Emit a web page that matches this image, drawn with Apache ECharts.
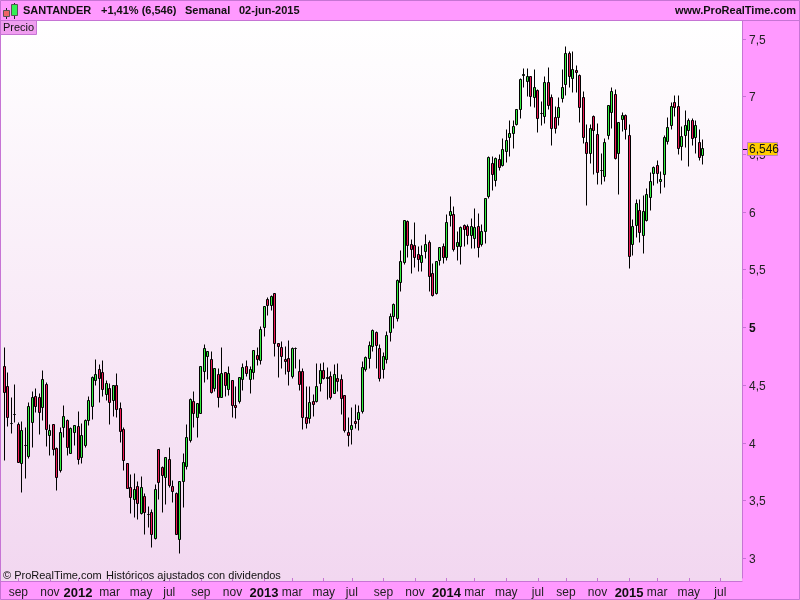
<!DOCTYPE html>
<html>
<head>
<meta charset="utf-8">
<title>SANTANDER</title>
<script src="https://cdn.jsdelivr.net/npm/echarts@6/dist/echarts.min.js"></script>
<style>
  html, body { margin: 0; padding: 0; background: #ff99ff; }
  #chart { width: 800px; height: 600px; }
</style>
</head>
<body>
<div id="chart"></div>
<script>
// velas semanales
var opens = [4.661,4.489,4.170,4.247,4.161,3.816,3.977,3.882,4.178,4.402,4.394,4.308,4.509,4.066,4.158,3.954,3.762,4.135,4.195,3.911,
  4.092,4.144,3.876,3.980,4.195,4.316,4.540,4.632,4.609,4.420,4.471,4.368,4.497,4.299,4.118,3.816,3.615,3.506,3.618,3.385,
  3.532,3.382,3.394,3.167,3.945,3.784,3.695,3.859,3.618,3.558,3.161,3.661,3.790,4.023,4.359,4.221,4.256,4.618,4.744,4.721,
  4.471,4.592,4.394,4.609,4.463,4.540,4.325,4.359,4.549,4.661,4.549,4.609,4.756,4.713,4.997,5.239,5.187,5.290,4.859,4.825,
  4.721,4.730,4.575,4.813,4.618,4.618,4.221,4.213,4.359,4.359,4.514,4.626,4.566,4.575,4.428,4.557,4.549,4.411,4.092,4.118,
  4.187,4.204,4.273,4.632,4.727,4.833,4.954,4.816,4.632,4.721,4.954,5.092,5.075,5.385,5.566,5.920,5.721,5.713,5.635,5.566,
  5.661,5.738,5.463,5.296,5.583,5.704,5.609,5.971,5.980,5.704,5.704,5.885,5.876,5.799,5.773,5.876,5.721,5.833,6.135,6.420,
  6.273,6.454,6.402,6.523,6.644,6.678,6.756,6.885,7.187,7.135,7.170,6.989,7.049,6.856,6.825,7.118,6.989,6.816,6.816,6.980,
  7.101,7.377,7.161,7.230,7.187,6.989,6.601,6.506,6.825,6.670,6.362,6.307,6.661,6.859,7.014,6.506,6.799,6.833,6.661,5.721,
  5.885,6.014,5.799,5.928,6.126,6.333,6.402,6.264,6.325,6.609,6.747,6.945,6.911,6.566,6.661,6.704,6.790,6.644,6.601,6.489];
var closes = [4.437,4.221,4.170,4.247,3.833,4.109,3.977,4.316,4.394,4.316,4.264,4.549,4.118,4.109,3.945,3.695,4.092,4.230,3.963,4.127,
  4.149,3.859,4.066,4.195,4.368,4.566,4.589,4.557,4.463,4.514,4.351,4.497,4.290,4.101,3.842,3.601,3.523,3.592,3.471,3.609,
  3.394,3.382,3.204,3.592,3.652,3.718,3.868,3.632,3.575,3.204,3.661,3.825,4.049,4.376,4.256,4.342,4.661,4.816,4.790,4.437,
  4.644,4.394,4.598,4.497,4.601,4.325,4.308,4.566,4.652,4.598,4.632,4.799,4.721,4.980,5.178,5.187,5.264,4.859,4.833,4.747,
  4.704,4.618,4.816,4.813,4.506,4.221,4.170,4.351,4.333,4.489,4.626,4.557,4.557,4.394,4.592,4.532,4.385,4.106,4.066,4.152,
  4.170,4.264,4.652,4.739,4.842,4.971,4.842,4.558,4.747,4.928,5.092,5.195,5.402,5.575,5.928,5.713,5.678,5.609,5.592,5.626,
  5.721,5.445,5.279,5.575,5.695,5.609,5.911,6.006,5.678,5.738,5.868,5.851,5.799,5.876,5.868,5.695,5.833,6.118,6.471,6.325,
  6.463,6.385,6.540,6.618,6.678,6.739,6.885,7.152,7.195,7.170,6.997,7.075,6.808,6.856,7.118,6.920,6.721,6.721,6.902,7.083,
  7.377,7.178,7.239,7.213,6.902,6.644,6.506,6.721,6.704,6.342,6.362,6.601,6.920,7.040,6.466,6.773,6.833,6.713,5.618,5.876,
  6.075,5.825,6.006,6.152,6.264,6.385,6.333,6.282,6.644,6.730,6.911,6.902,6.549,6.652,6.747,6.790,6.635,6.747,6.471,6.546];
var lows = [3.842,4.141,4.078,4.172,3.828,3.572,3.693,3.865,3.957,4.259,4.072,4.193,3.966,3.891,3.891,3.589,3.744,4.043,3.891,3.905,
  3.980,3.813,3.822,3.960,4.149,4.198,4.494,4.353,4.397,4.362,4.158,4.227,4.216,4.000,3.759,3.601,3.388,3.354,3.331,3.377,
  3.201,3.262,3.089,3.161,3.512,3.397,3.468,3.612,3.483,3.204,3.037,3.440,3.770,4.003,4.129,4.043,4.256,4.526,4.546,4.425,
  4.440,4.305,4.394,4.405,4.411,4.218,4.210,4.339,4.451,4.575,4.425,4.552,4.667,4.675,4.925,5.101,5.149,4.747,4.566,4.646,
  4.589,4.494,4.555,4.641,4.451,4.115,4.124,4.170,4.224,4.353,4.445,4.549,4.373,4.373,4.425,4.440,4.244,4.086,3.971,3.986,
  4.124,4.106,4.253,4.618,4.641,4.790,4.647,4.529,4.560,4.684,4.874,4.986,5.049,5.313,5.543,5.606,5.468,5.520,5.486,5.480,
  5.595,5.313,5.270,5.287,5.532,5.555,5.580,5.876,5.658,5.580,5.546,5.698,5.718,5.687,5.687,5.606,5.704,5.724,6.118,6.184,
  6.221,6.359,6.394,6.428,6.480,6.549,6.747,6.808,7.075,6.997,6.911,6.902,6.693,6.747,6.767,6.888,6.578,6.681,6.750,6.945,
  7.009,7.075,7.032,7.032,6.779,6.595,6.055,6.422,6.328,6.241,6.236,6.267,6.629,6.724,6.457,6.149,6.695,6.624,5.509,5.624,
  5.776,5.739,5.644,5.920,6.012,6.227,6.247,6.158,6.210,6.586,6.716,6.825,6.494,6.443,6.558,6.397,6.578,6.506,6.448,6.408];
var highs = [4.828,4.612,4.388,4.503,4.172,4.187,4.129,4.345,4.440,4.474,4.425,4.629,4.526,4.158,4.158,3.963,4.129,4.325,4.204,4.135,
  4.149,4.273,4.170,4.204,4.402,4.575,4.721,4.681,4.713,4.540,4.514,4.497,4.601,4.345,4.129,3.816,3.721,3.733,3.661,3.707,
  3.560,3.448,3.422,3.635,3.945,3.793,3.868,3.963,3.670,3.569,3.661,3.905,4.158,4.385,4.440,4.342,4.661,4.853,4.790,4.790,
  4.644,4.646,4.828,4.609,4.661,4.540,4.489,4.566,4.690,4.713,4.661,4.799,4.828,5.009,5.178,5.256,5.273,5.290,4.859,4.876,
  4.833,4.885,4.825,4.825,4.724,4.646,4.489,4.489,4.422,4.690,4.690,4.695,4.652,4.618,4.678,4.690,4.592,4.411,4.221,4.308,
  4.330,4.325,4.704,4.747,4.879,4.980,4.963,4.851,4.782,4.963,5.118,5.204,5.411,5.670,5.928,5.928,5.764,5.911,5.704,5.713,
  5.807,5.756,5.557,5.575,5.695,5.730,5.980,6.135,6.049,5.833,5.876,5.894,5.894,5.945,6.032,5.989,5.888,6.118,6.480,6.480,
  6.471,6.497,6.635,6.713,6.790,6.790,6.885,7.161,7.247,7.247,7.170,7.239,7.058,6.954,7.172,7.256,7.014,6.917,6.989,7.233,
  7.437,7.394,7.394,7.273,7.195,7.040,6.759,6.759,6.833,6.764,6.506,6.635,6.920,7.075,7.058,6.773,6.859,6.842,6.756,5.937,
  6.109,6.109,6.144,6.204,6.342,6.394,6.445,6.351,6.661,6.816,6.945,7.006,7.006,6.739,6.877,6.807,6.807,6.790,6.713,6.627];

var weekCount = 210;
var priceTicks = [3, 3.5, 4, 4.5, 5, 5.5, 6, 6.5, 7, 7.5];
var monthWeeks = [4, 13, 21, 30, 39, 47, 56, 65, 74, 82, 91, 99, 108, 117, 126, 134, 143, 152, 160, 169, 178, 186, 195, 204];
var monthNames = ['sep', 'nov', '2012', 'mar', 'may', 'jul', 'sep', 'nov', '2013', 'mar', 'may', 'jul', 'sep', 'nov', '2014', 'mar', 'may', 'jul', 'sep', 'nov', '2015', 'mar', 'may', 'jul'];
var lastClose = 6.546;

var FONT = '"Liberation Sans", Arial, sans-serif';
var PINK = '#ff99ff';
var EDGE = '#c674d4';
var UP = '#33f040';
var DOWN = '#ee1a55';

var categories = [];
for (var w = 0; w < weekCount; w++) {
  var m = monthWeeks.indexOf(w);
  categories.push(m >= 0 ? monthNames[m] : '');
}
var candles = opens.map(function (o, i) {
  return [i, o, closes[i], lows[i], highs[i]];
});
function isMonthWeek(index) {
  return monthWeeks.indexOf(index) >= 0;
}

// vela de 3px: el tipo candlestick redondea el ancho y la mecha queda descentrada
function renderCandle(params, api) {
  var i = api.value(0);
  var o = api.value(1);
  var c = api.value(2);
  var x = Math.floor(api.coord([i, o])[0]) + 0.5;
  var yOpen = Math.floor(api.coord([i, o])[1]) + 0.5;
  var yClose = Math.floor(api.coord([i, c])[1]) + 0.5;
  var yLow = Math.floor(api.coord([i, api.value(3)])[1]) + 0.5;
  var yHigh = Math.floor(api.coord([i, api.value(4)])[1]) + 0.5;
  return {
    type: 'group',
    children: [
      {
        type: 'line',
        shape: { x1: x, y1: yHigh, x2: x, y2: yLow },
        style: { stroke: '#000', lineWidth: 1 }
      },
      {
        type: 'rect',
        shape: { x: x - 1, y: Math.min(yOpen, yClose), width: 2, height: Math.abs(yClose - yOpen) },
        style: { fill: c >= o ? UP : DOWN, stroke: '#000', lineWidth: 1 }
      }
    ]
  };
}

var myChart = echarts.init(document.getElementById('chart'));

var option = {
  backgroundColor: PINK,
  animation: false,
  grid: { left: 2.55, top: 21, width: 737.1, height: 560 },
  xAxis: {
    type: 'category',
    data: categories,
    boundaryGap: true,
    axisLine: { show: false },
    axisTick: {
      show: true,
      interval: isMonthWeek,
      alignWithLabel: true,
      length: 4,
      lineStyle: { color: EDGE, width: 1 }
    },
    axisLabel: {
      interval: isMonthWeek,
      hideOverlap: false,
      showMinLabel: true,
      showMaxLabel: true,
      margin: 7,
      fontFamily: FONT,
      fontSize: 12,
      color: '#222',
      formatter: function (val) {
        return /^\d+$/.test(val) ? '{year|' + val + '}' : '{month|' + val + '}';
      },
      rich: {
        month: { fontFamily: FONT, fontSize: 12, color: '#222', padding: [2, 0, 0, 0] },
        year: { fontFamily: FONT, fontSize: 13, fontWeight: 'bold', color: '#111', padding: [2, 0, 0, 0] }
      }
    },
    splitLine: { show: false }
  },
  yAxis: {
    type: 'value',
    position: 'right',
    offset: 2.35,
    min: 2.828,
    max: 7.655,
    axisLine: { show: true, lineStyle: { color: EDGE, width: 1 } },
    axisTick: {
      show: true,
      length: 4,
      customValues: priceTicks,
      lineStyle: { color: EDGE, width: 1 }
    },
    axisLabel: {
      customValues: priceTicks,
      margin: 7,
      fontFamily: FONT,
      fontSize: 12,
      color: '#222',
      padding: [3, 0, 0, 0],
      formatter: function (val) {
        return val === 5 ? '{whole|5}' : String(val).replace('.', ',');
      },
      rich: {
        whole: { fontFamily: FONT, fontSize: 12, fontWeight: 'bold', color: '#111' }
      }
    },
    splitLine: { show: false }
  },
  series: [{
    type: 'custom',
    data: candles,
    encode: { x: 0, y: [1, 2, 3, 4] },
    renderItem: renderCandle,
    clip: false
  }]
};
myChart.setOption(option);

// marco, cabecera y etiqueta del ultimo precio
var lastY = myChart.convertToPixel({ yAxisIndex: 0 }, lastClose);
function labelText(x, y, text, size, weight, align) {
  return {
    type: 'text', x: x, y: y, z: 20,
    style: {
      text: text, fill: '#111', fontFamily: FONT, fontSize: size,
      fontWeight: weight || 'normal', align: align || 'left', verticalAlign: 'middle'
    }
  };
}
myChart.setOption({
  graphic: [
    {
      type: 'rect', z: -10, shape: { x: 1, y: 21, width: 741, height: 560 },
      style: {
        fill: new echarts.graphic.LinearGradient(0, 0, 0, 1, [
          { offset: 0, color: '#ffffff' },
          { offset: 1, color: '#f2d7f0' }
        ])
      }
    },
    { type: 'line', z: 5, shape: { x1: 0, y1: 20.5, x2: 800, y2: 20.5 }, style: { stroke: EDGE, lineWidth: 1 } },
    { type: 'line', z: 5, shape: { x1: 0, y1: 581.5, x2: 742.5, y2: 581.5 }, style: { stroke: EDGE, lineWidth: 1 } },
    { type: 'rect', z: 5, shape: { x: 0.5, y: 0.5, width: 799, height: 599 }, style: { fill: 'none', stroke: EDGE, lineWidth: 1 } },
    // icono de velas
    { type: 'line', z: 6, shape: { x1: 6.5, y1: 8, x2: 6.5, y2: 19 }, style: { stroke: '#222', lineWidth: 1 } },
    { type: 'rect', z: 7, shape: { x: 3.5, y: 10.5, width: 6, height: 6 }, style: { fill: '#ee6666', stroke: '#555', lineWidth: 1 } },
    { type: 'line', z: 6, shape: { x1: 14.5, y1: 3, x2: 14.5, y2: 19 }, style: { stroke: '#222', lineWidth: 1 } },
    { type: 'rect', z: 7, shape: { x: 11.5, y: 4.5, width: 6, height: 11 }, style: { fill: '#33ee55', stroke: '#555', lineWidth: 1 } },
    labelText(23, 11, 'SANTANDER', 11, 'bold'),
    labelText(101, 11, '+1,41% (6,546)', 11, 'bold'),
    labelText(185, 11, 'Semanal', 11, 'bold'),
    labelText(239, 11, '02-jun-2015', 11, 'bold'),
    labelText(796, 11, 'www.ProRealTime.com', 11, 'bold', 'right'),
    { type: 'rect', z: 8, shape: { x: 0.5, y: 20.5, width: 36, height: 14 }, style: { fill: '#f09ef0', stroke: EDGE, lineWidth: 1 } },
    labelText(3, 28, 'Precio', 11),
    labelText(3, 576, '© ProRealTime.com', 11),
    labelText(106, 576, 'Históricos ajustados con dividendos', 11),
    // ultimo precio
    { type: 'line', z: 9, shape: { x1: 743, y1: Math.round(lastY) + 0.5, x2: 748, y2: Math.round(lastY) + 0.5 }, style: { stroke: '#000', lineWidth: 1 } },
    { type: 'rect', z: 10, shape: { x: 747.5, y: Math.round(lastY) - 6.5, width: 30, height: 13 }, style: { fill: '#ffcc00', stroke: '#c080c0', lineWidth: 1 } },
    labelText(749, Math.round(lastY) + 1, '6,546', 12)
  ]
});
</script>
</body>
</html>
